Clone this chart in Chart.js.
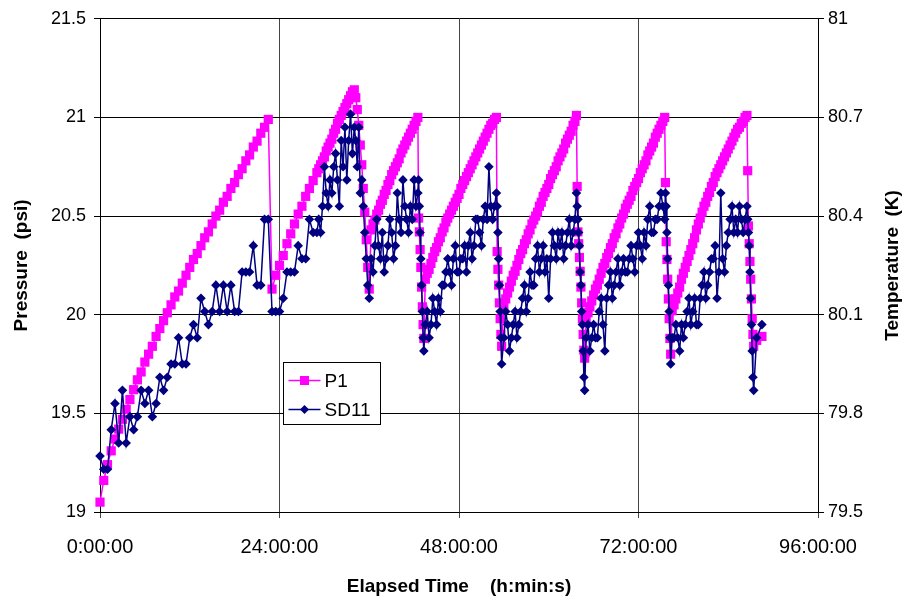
<!DOCTYPE html>
<html>
<head>
<meta charset="utf-8">
<script src="https://cdn.jsdelivr.net/npm/chart.js@4"></script>
<style>
  html, body { margin: 0; padding: 0; background: #fff; }
  #wrap { width: 902px; height: 598px; }
</style>
</head>
<body>
<div id="wrap"><canvas id="myChart" width="902" height="598"></canvas></div>
<script>
// elapsed time of each sample (hours)
const hours = [
  // fill 1
  0, 0.5, 1, 1.5, 2, 2.5, 3, 3.5, 4, 4.5, 5, 5.5, 6, 6.5, 7, 7.5, 8, 8.5, 9, 9.5,
  10, 10.5, 11, 11.5, 12, 12.5, 13, 13.5, 14, 14.5, 15, 15.5, 16, 16.5, 17, 17.5, 18, 18.5, 19, 19.5,
  20, 20.5, 21, 21.5, 22, 22.5,
  // fill 2
  23, 23.5, 24, 24.5, 25, 25.5, 26, 26.5, 27, 27.5, 28, 28.5,
  29, 29.25, 29.5, 29.75, 30, 30.25, 30.5, 30.75, 31, 31.25, 31.5, 31.75, 32,
  32.25, 32.5, 32.75, 33, 33.25, 33.5, 33.75, 34,
  34.2, 34.4, 34.6, 34.8, 35, 35.2, 35.4, 35.6, 35.8, 36,
  // fill 3
  36.25, 36.5, 36.75, 37, 37.25, 37.5, 37.75, 38, 38.25, 38.5, 38.75, 39, 39.25, 39.5, 39.75, 40,
  40.25, 40.5, 40.75, 41, 41.25, 41.5, 41.75, 42, 42.25, 42.5,
  42.6, 42.7, 42.8, 42.9, 43, 43.1, 43.2, 43.3,
  // fill 4
  43.5, 43.75, 44, 44.25, 44.5, 44.75, 45, 45.25, 45.5, 45.75, 46, 46.25, 46.5, 46.75, 47, 47.25,
  47.5, 47.75, 48, 48.25, 48.5, 48.75, 49, 49.25, 49.5, 49.75, 50, 50.25, 50.5, 50.75, 51, 51.25,
  51.5, 51.75, 52, 52.25, 52.5, 52.75, 53,
  53.1, 53.2, 53.3, 53.4, 53.5, 53.6, 53.7,
  // fill 5
  54, 54.25, 54.5, 54.75, 55, 55.25, 55.5, 55.75, 56, 56.25, 56.5, 56.75, 57, 57.25, 57.5, 57.75,
  58, 58.25, 58.5, 58.75, 59, 59.25, 59.5, 59.75, 60, 60.25, 60.5, 60.75, 61, 61.25, 61.5, 61.75,
  62, 62.25, 62.5, 62.75, 63, 63.25, 63.5,
  63.7, 63.8, 63.9, 64, 64.1, 64.2, 64.3, 64.4, 64.5, 64.6, 64.7, 64.8,
  // fill 6
  65, 65.25, 65.5, 65.75, 66, 66.25, 66.5, 66.75, 67, 67.25, 67.5, 67.75, 68, 68.25, 68.5, 68.75,
  69, 69.25, 69.5, 69.75, 70, 70.25, 70.5, 70.75, 71, 71.25, 71.5, 71.75, 72, 72.25, 72.5, 72.75,
  73, 73.25, 73.5, 73.75, 74, 74.25, 74.5, 74.75, 75, 75.25, 75.5,
  75.6, 75.7, 75.8, 75.9, 76, 76.1, 76.2, 76.3,
  // fill 7
  76.5, 76.75, 77, 77.25, 77.5, 77.75, 78, 78.25, 78.5, 78.75, 79, 79.25, 79.5, 79.75, 80, 80.25,
  80.5, 80.75, 81, 81.25, 81.5, 81.75, 82, 82.25, 82.5, 82.75, 83, 83.25, 83.5, 83.75, 84, 84.25,
  84.5, 84.75, 85, 85.25, 85.5, 85.75, 86, 86.25, 86.5,
  86.6, 86.7, 86.8, 86.9, 87, 87.1, 87.2, 87.3, 87.4, 87.8, 88.5
];

// P1 pressure (psi)
const p1 = [
  19.05, 19.16, 19.24, 19.31, 19.37, 19.42, 19.47, 19.52, 19.57, 19.62, 19.67, 19.71, 19.76, 19.80, 19.84, 19.89, 19.93, 19.97, 20.01, 20.05,
  20.09, 20.12, 20.16, 20.20, 20.24, 20.28, 20.31, 20.35, 20.39, 20.42, 20.46, 20.50, 20.53, 20.57, 20.60, 20.64, 20.67, 20.71, 20.74, 20.78,
  20.81, 20.85, 20.88, 20.92, 20.95, 20.99,

  20.13, 20.20, 20.25, 20.30, 20.36, 20.41, 20.46, 20.51, 20.55, 20.60, 20.64, 20.68,
  20.72, 20.74, 20.76, 20.78, 20.80, 20.83, 20.85, 20.87, 20.89, 20.92, 20.94, 20.97, 20.99,
  21.01, 21.03, 21.05, 21.07, 21.09, 21.11, 21.13, 21.14,
  21.10, 21.04, 20.96, 20.86, 20.76, 20.64, 20.52, 20.38, 20.24, 20.13,

  20.43, 20.46, 20.48, 20.51, 20.53, 20.56, 20.58, 20.61, 20.63, 20.66, 20.68, 20.71, 20.73, 20.75, 20.77, 20.79,
  20.82, 20.84, 20.86, 20.88, 20.90, 20.92, 20.94, 20.96, 20.98, 21.00,
  20.49, 20.42, 20.33, 20.24, 20.14, 20.04, 19.95, 19.88,

  20.18, 20.21, 20.23, 20.26, 20.29, 20.32, 20.34, 20.37, 20.39, 20.42, 20.44, 20.47, 20.49, 20.51, 20.53, 20.55,
  20.57, 20.59, 20.61, 20.64, 20.66, 20.68, 20.70, 20.72, 20.74, 20.76, 20.78, 20.80, 20.82, 20.84, 20.86, 20.88,
  20.90, 20.92, 20.94, 20.96, 20.97, 20.99, 21.00,
  20.32, 20.23, 20.15, 20.06, 19.98, 19.90, 19.84,

  20.05, 20.08, 20.11, 20.14, 20.17, 20.20, 20.22, 20.25, 20.28, 20.31, 20.33, 20.36, 20.38, 20.41, 20.43, 20.46,
  20.48, 20.50, 20.52, 20.55, 20.57, 20.60, 20.62, 20.64, 20.66, 20.69, 20.71, 20.73, 20.75, 20.78, 20.80, 20.82,
  20.84, 20.87, 20.89, 20.91, 20.93, 20.96, 20.98,
  21.01, 20.65, 20.42, 20.36, 20.29, 20.22, 20.14, 20.06, 19.98, 19.90, 19.82, 19.78,

  19.97, 20.01, 20.04, 20.07, 20.10, 20.13, 20.15, 20.18, 20.21, 20.24, 20.26, 20.29, 20.31, 20.34, 20.36, 20.39,
  20.41, 20.44, 20.46, 20.49, 20.51, 20.54, 20.56, 20.58, 20.60, 20.63, 20.65, 20.67, 20.69, 20.72, 20.74, 20.76,
  20.78, 20.81, 20.83, 20.85, 20.87, 20.90, 20.92, 20.94, 20.96, 20.98, 21.00,
  20.67, 20.37, 20.28, 20.18, 20.08, 19.98, 19.88, 19.80,

  20.02, 20.05, 20.08, 20.11, 20.14, 20.18, 20.21, 20.24, 20.27, 20.30, 20.33, 20.36, 20.39, 20.43, 20.46, 20.49,
  20.52, 20.55, 20.57, 20.60, 20.62, 20.65, 20.67, 20.70, 20.72, 20.74, 20.76, 20.78, 20.80, 20.82, 20.84, 20.86,
  20.88, 20.90, 20.92, 20.94, 20.95, 20.97, 20.98, 21.00, 21.01,
  20.73, 20.45, 20.36, 20.27, 20.18, 20.08, 19.98, 19.90, 19.84, 19.87, 19.89
];

// SD11 temperature (K)
const sd11 = [
  79.67, 79.63, 79.63, 79.75, 79.83, 79.71, 79.87, 79.71, 79.79, 79.75, 79.79, 79.87, 79.83, 79.87, 79.79, 79.83, 79.91, 79.87, 79.91, 79.95,
  79.95, 80.03, 79.95, 79.95, 80.03, 80.07, 80.03, 80.15, 80.11, 80.07, 80.11, 80.19, 80.11, 80.19, 80.11, 80.19, 80.11, 80.11, 80.23, 80.23,
  80.23, 80.31, 80.19, 80.19, 80.39, 80.39,

  80.11, 80.11, 80.11, 80.15, 80.23, 80.23, 80.23, 80.31, 80.27, 80.27, 80.39, 80.35,
  80.35, 80.39, 80.35, 80.43, 80.55, 80.47, 80.43, 80.51, 80.47, 80.55, 80.59, 80.51, 80.43,
  80.63, 80.55, 80.67, 80.51, 80.63, 80.71, 80.59, 80.67,
  80.63, 80.55, 80.67, 80.47, 80.51, 80.43, 80.35, 80.27, 80.19, 80.15,

  80.27, 80.23, 80.31, 80.39, 80.31, 80.27, 80.35, 80.23, 80.27, 80.31, 80.39, 80.35, 80.27, 80.31, 80.47, 80.39,
  80.35, 80.51, 80.43, 80.39, 80.35, 80.43, 80.39, 80.51, 80.43, 80.47,
  80.51, 80.43, 80.35, 80.27, 80.19, 80.11, 80.03, 79.99,

  80.07, 80.11, 80.03, 80.07, 80.15, 80.11, 80.07, 80.15, 80.11, 80.19, 80.19, 80.23, 80.27, 80.23, 80.19, 80.27,
  80.31, 80.23, 80.23, 80.27, 80.27, 80.31, 80.23, 80.31, 80.35, 80.27, 80.31, 80.39, 80.39, 80.35, 80.31, 80.39,
  80.43, 80.39, 80.55, 80.43, 80.39, 80.43, 80.47,
  80.43, 80.35, 80.27, 80.19, 80.11, 80.03, 79.95,

  80.03, 80.11, 80.07, 79.99, 80.03, 80.07, 80.11, 80.03, 80.07, 80.11, 80.15, 80.19, 80.11, 80.15, 80.23, 80.19,
  80.19, 80.27, 80.31, 80.23, 80.27, 80.31, 80.23, 80.27, 80.15, 80.27, 80.35, 80.31, 80.27, 80.35, 80.31, 80.35,
  80.27, 80.31, 80.35, 80.39, 80.31, 80.35, 80.39,
  80.47, 80.43, 80.39, 80.35, 80.31, 80.23, 80.19, 80.11, 80.07, 79.99, 79.91, 79.87,

  80.03, 80.07, 79.99, 80.03, 80.07, 80.03, 80.03, 80.11, 80.15, 80.07, 79.99, 80.15, 80.19, 80.23, 80.15, 80.19,
  80.23, 80.27, 80.19, 80.23, 80.27, 80.23, 80.23, 80.27, 80.31, 80.27, 80.23, 80.31, 80.35, 80.31, 80.27, 80.35,
  80.31, 80.39, 80.43, 80.35, 80.35, 80.39, 80.39, 80.43, 80.47, 80.43, 80.39,
  80.47, 80.43, 80.35, 80.27, 80.19, 80.11, 80.03, 79.95,

  80.03, 80.03, 80.07, 80.03, 79.99, 80.07, 80.03, 80.07, 80.11, 80.15, 80.07, 80.11, 80.15, 80.07, 80.07, 80.15,
  80.19, 80.23, 80.15, 80.19, 80.23, 80.27, 80.27, 80.31, 80.15, 80.23, 80.47, 80.27, 80.23, 80.31, 80.35, 80.39,
  80.43, 80.35, 80.39, 80.35, 80.43, 80.39, 80.35, 80.39, 80.43,
  80.39, 80.35, 80.31, 80.23, 80.15, 80.07, 79.99, 79.91, 79.87, 80.03, 80.07
];

// axis ticks
const timeTicks = [0, 24, 48, 72, 96];
const timeLabels = ['0:00:00', '24:00:00', '48:00:00', '72:00:00', '96:00:00'];
const pressureTicks = [19, 19.5, 20, 20.5, 21, 21.5];
const pressureLabels = ['19', '19.5', '20', '20.5', '21', '21.5'];
const tempTicks = [79.5, 79.8, 80.1, 80.4, 80.7, 81];
const tempLabels = ['79.5', '79.8', '80.1', '80.4', '80.7', '81'];

console.assert(hours.length === p1.length && hours.length === sd11.length, 'length mismatch');

const FONT = "'Liberation Sans', Arial, sans-serif";

// setup
const data = {
  datasets: [{
    label: 'P1',
    data: hours.map((h, i) => ({ x: h, y: p1[i] })),
    borderColor: '#ff00ff',
    backgroundColor: '#ff00ff',
    borderWidth: 1.5,
    pointStyle: 'rect',
    pointRadius: 6.5,
    pointBorderWidth: 0,
    pointBackgroundColor: '#ff00ff',
    tension: 0,
    yAxisID: 'y',
    order: 2,
    clip: false
  }, {
    label: 'SD11',
    data: hours.map((h, i) => ({ x: h, y: sd11[i] })),
    borderColor: '#000080',
    backgroundColor: '#000080',
    borderWidth: 1.5,
    pointStyle: 'rectRot',
    pointRadius: 4.8,
    pointBorderWidth: 0,
    pointBackgroundColor: '#000080',
    tension: 0,
    yAxisID: 'y2',
    order: 1,
    clip: false
  }]
};

// legend box inside the plot + right axis title (reads bottom to top)
const extras = {
  id: 'extras',
  afterDraw(chart) {
    const ctx = chart.ctx;
    ctx.save();
    const bx = 283.5, by = 362.5, bw = 97, bh = 62;
    ctx.fillStyle = '#fff';
    ctx.fillRect(bx, by, bw, bh);
    ctx.strokeStyle = '#000';
    ctx.lineWidth = 1;
    ctx.strokeRect(bx, by, bw, bh);
    const rows = [
      { text: 'P1', color: '#ff00ff', y: by + 18, shape: 'square' },
      { text: 'SD11', color: '#000080', y: by + 47, shape: 'diamond' }
    ];
    rows.forEach(r => {
      ctx.strokeStyle = r.color;
      ctx.fillStyle = r.color;
      ctx.lineWidth = 1.5;
      ctx.beginPath();
      ctx.moveTo(bx + 5, r.y);
      ctx.lineTo(bx + 37, r.y);
      ctx.stroke();
      const cx = bx + 21;
      ctx.beginPath();
      if (r.shape === 'square') {
        ctx.rect(cx - 4.5, r.y - 4.5, 9, 9);
      } else {
        ctx.moveTo(cx, r.y - 4.5);
        ctx.lineTo(cx + 4.5, r.y);
        ctx.lineTo(cx, r.y + 4.5);
        ctx.lineTo(cx - 4.5, r.y);
        ctx.closePath();
      }
      ctx.fill();
      ctx.fillStyle = '#000';
      ctx.font = '19px ' + FONT;
      ctx.textAlign = 'left';
      ctx.textBaseline = 'middle';
      ctx.fillText(r.text, bx + 41, r.y + 1);
    });
    ctx.translate(893, (chart.chartArea.top + chart.chartArea.bottom) / 2);
    ctx.rotate(-Math.PI / 2);
    ctx.fillStyle = '#000';
    ctx.font = 'bold 19px ' + FONT;
    ctx.textAlign = 'center';
    ctx.textBaseline = 'middle';
    ctx.fillText('Temperature  (K)', 0, 0);
    ctx.restore();
  }
};

// config
const config = {
  type: 'line',
  data: data,
  options: {
    responsive: false,
    animation: false,
    layout: { padding: { top: 16, left: 0, right: 0, bottom: 0 } },
    plugins: {
      legend: { display: false },
      tooltip: { enabled: false }
    },
    scales: {
      x: {
        type: 'linear',
        min: 0,
        max: 96,
        afterBuildTicks: s => { s.ticks = timeTicks.map(v => ({ value: v })); },
        afterFit: s => { s.height = 86; },
        ticks: {
          callback: (v, i) => timeLabels[i],
          color: '#000',
          font: { family: FONT, size: 20 },
          padding: 17,
          maxRotation: 0
        },
        grid: { color: '#444', lineWidth: 1, tickLength: 6 },
        border: { color: '#000', width: 1 },
        title: {
          display: true,
          text: 'Elapsed Time    (h:min:s)',
          color: '#000',
          font: { family: FONT, size: 19, weight: 'bold', lineHeight: 1.2 },
          padding: { top: 0, bottom: 0 }
        }
      },
      y: {
        type: 'linear',
        position: 'left',
        min: 19,
        max: 21.5,
        afterBuildTicks: s => { s.ticks = pressureTicks.map(v => ({ value: v })); },
        afterFit: s => { s.width = 100; },
        ticks: {
          callback: (v, i) => pressureLabels[i],
          color: '#000',
          font: { family: FONT, size: 18 },
          padding: 8
        },
        grid: { color: '#000', lineWidth: 1, tickLength: 6 },
        border: { color: '#000', width: 1 },
        title: {
          display: true,
          text: 'Pressure  (psi)',
          color: '#000',
          font: { family: FONT, size: 19, weight: 'bold', lineHeight: 1.2 },
          padding: { top: 10, bottom: 0 }
        }
      },
      y2: {
        type: 'linear',
        position: 'right',
        min: 79.5,
        max: 81,
        afterBuildTicks: s => { s.ticks = tempTicks.map(v => ({ value: v })); },
        afterFit: s => { s.width = 84; },
        ticks: {
          callback: (v, i) => tempLabels[i],
          color: '#000',
          font: { family: FONT, size: 18 },
          padding: 4
        },
        grid: { drawOnChartArea: false, color: '#000', lineWidth: 1, tickLength: 6 },
        border: { color: '#000', width: 1 }
      }
    }
  },
  plugins: [extras]
};

// render init block
const myChart = new Chart(document.getElementById('myChart'), config);
</script>
</body>
</html>
